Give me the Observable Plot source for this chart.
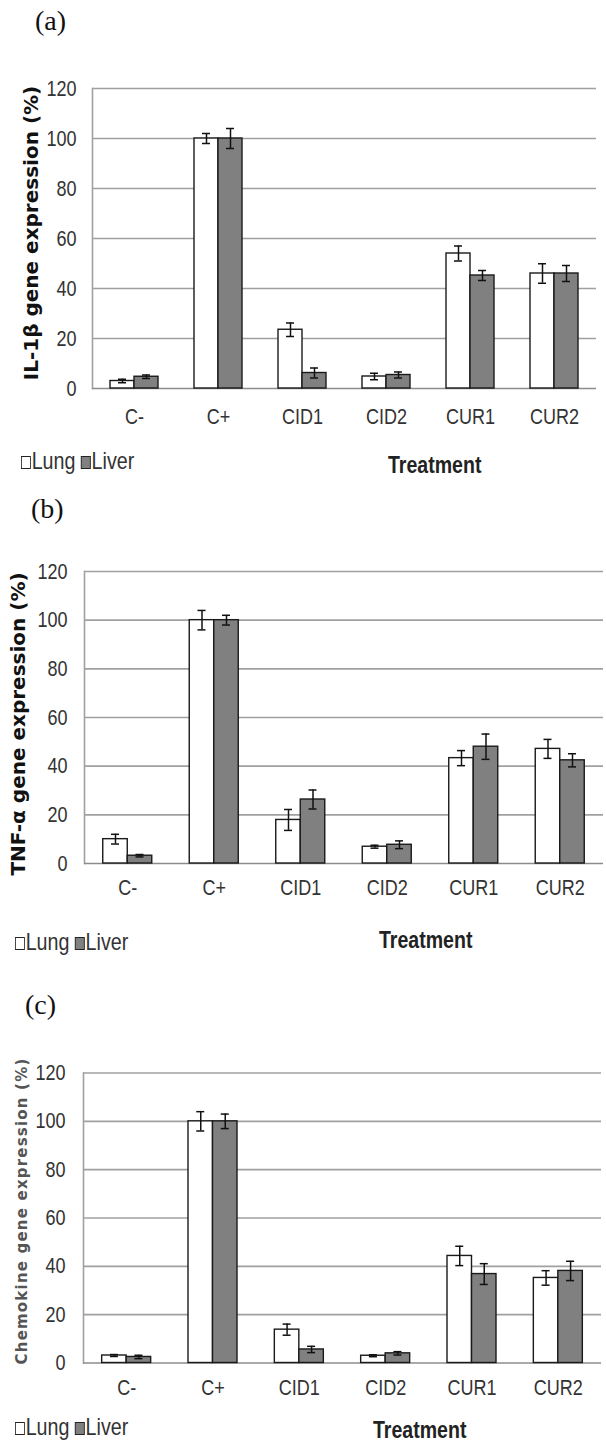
<!DOCTYPE html>
<html>
<head>
<meta charset="utf-8">
<script src="https://cdn.jsdelivr.net/npm/d3@7"></script>
<script src="https://cdn.jsdelivr.net/npm/@observablehq/plot@0.6"></script>
<style>
  body { margin: 0; background: #fff; }
  #page { position: relative; width: 606px; height: 1445px; background: #fff; overflow: hidden; }
  .abs { position: absolute; white-space: nowrap; line-height: 1; }
  .narrow { font-family: "Liberation Sans", Arial, sans-serif; transform-origin: 0 50%; }
  .tag { font-family: "Liberation Serif", "DejaVu Serif", serif; font-size: 28px; color: #111; transform: translateY(-50%); }
  .legend { font-size: 24px; color: #333; transform: translateY(-50%) scaleX(0.82); }
  .sw { display: inline-block; width: 10px; height: 11px; border: 1.6px solid #222; margin-right: 1px; vertical-align: 0px; }
  .treat { font-weight: bold; font-size: 23px; color: #222; transform: translateY(-50%) scaleX(0.85); }
  .ytitle { font-family: "DejaVu Sans", sans-serif; font-weight: bold; color: #111; transform: translate(-50%, -50%) rotate(-90deg); }
</style>
</head>
<body>
<div id="page"></div>
<script>
// ---------- data ----------
const categories = ["C-", "C+", "CID1", "CID2", "CUR1", "CUR2"];
const yTicks = [0, 20, 40, 60, 80, 100, 120];
const seriesNames = ["Lung", "Liver"];

const il1bLung     = [3.0, 100, 23.5, 4.8, 54.0, 46.0];
const il1bLungErr  = [0.7, 2.0, 2.7, 1.3, 3.0, 3.9];
const il1bLiver    = [4.7, 100, 6.2, 5.4, 45.2, 46.0];
const il1bLiverErr = [0.7, 4.0, 2.0, 1.2, 2.0, 3.2];

const tnfLung      = [10.0, 100, 17.9, 6.9, 43.3, 47.1];
const tnfLungErr   = [2.0, 4.0, 4.3, 0.6, 3.1, 3.9];
const tnfLiver     = [3.2, 100, 26.3, 7.7, 48.0, 42.4];
const tnfLiverErr  = [0.5, 2.0, 3.9, 1.6, 5.2, 2.7];

const chemLung     = [3.1, 100, 13.8, 3.0, 44.3, 35.2];
const chemLungErr  = [0.4, 4.0, 2.3, 0.4, 4.0, 3.0];
const chemLiver    = [2.5, 100, 5.6, 4.0, 36.8, 38.1];
const chemLiverErr = [0.7, 3.0, 1.3, 0.7, 4.3, 4.0];

const panelTags = ["(a)", "(b)", "(c)"];
const yTitles = ["IL-1β gene expression (%)", "TNF-α gene expression (%)", "Chemokine gene expression (%)"];
const xTitle = "Treatment";

// ---------- layout / style (not data) ----------
const layouts = [
  { top: 60,  mt: 28,   fh: 300, mb: 52, ml: 92, mr: 10, barW: 24,   xPad: 20, yPad: 16,
    tagX: 35, tagY: 21, titleX: 31, titleY: 233, titleSize: 20, legY: 461, legX: 21, trX: 388, trY: 465 },
  { top: 540, mt: 31,   fh: 292, mb: 45, ml: 84, mr: 3,  barW: 24.5, xPad: 16, yPad: 17,
    tagX: 31, tagY: 509, titleX: 18, titleY: 724, titleSize: 20, legY: 942, legX: 15, trX: 379, trY: 940 },
  { top: 1040, mt: 32.5, fh: 290, mb: 45, ml: 83, mr: 5, barW: 24.5, xPad: 16.5, yPad: 18,
    tagX: 25, tagY: 1005, titleX: 22, titleY: 1211, titleSize: 15, legY: 1427, legX: 15, trX: 373, trY: 1430 }
];
const seriesData = [
  [il1bLung, il1bLungErr, il1bLiver, il1bLiverErr],
  [tnfLung, tnfLungErr, tnfLiver, tnfLiverErr],
  [chemLung, chemLungErr, chemLiver, chemLiverErr]
];
const fills = { Lung: "#ffffff", Liver: "#808080" };
const W = 606;
const page = document.getElementById("page");

function addDiv(cls, html, left, top, extra) {
  const d = document.createElement("div");
  d.className = "abs " + cls;
  d.innerHTML = html;
  d.style.left = left + "px";
  d.style.top = top + "px";
  if (extra) Object.assign(d.style, extra);
  page.appendChild(d);
  return d;
}

layouts.forEach((L, p) => {
  const [lv, le, iv, ie] = seriesData[p];
  const rows = (vals, errs, s) => categories.map((c, i) => ({ treatment: c, series: s, value: vals[i], err: errs[i] }));
  const lung = rows(lv, le, "Lung");
  const liver = rows(iv, ie, "Liver");
  const bw = (W - L.ml - L.mr) / categories.length;
  const half = bw / 2;
  const cap = 4;

  const barMarks = (data, side) => {
    const s = side < 0;
    const off = side * L.barW / 2;
    return [
      Plot.barY(data, {
        x: "treatment", y: "value", fill: fills[data[0].series], stroke: "#1a1a1a", strokeWidth: 1.4,
        insetLeft: s ? half - L.barW : half, insetRight: s ? half : half - L.barW
      }),
      Plot.ruleX(data, { x: "treatment", y1: d => d.value - d.err, y2: d => d.value + d.err, dx: off, stroke: "#111", strokeWidth: 1.5 }),
      Plot.tickY(data, { x: "treatment", y: d => d.value + d.err, dx: off, insetLeft: half - cap, insetRight: half - cap, stroke: "#111", strokeWidth: 1.5 }),
      Plot.tickY(data, { x: "treatment", y: d => d.value - d.err, dx: off, insetLeft: half - cap, insetRight: half - cap, stroke: "#111", strokeWidth: 1.5 })
    ];
  };

  const chart = Plot.plot({
    width: W,
    height: L.mt + L.fh + L.mb,
    marginTop: L.mt, marginBottom: L.mb, marginLeft: L.ml, marginRight: L.mr,
    style: { fontFamily: '"Liberation Sans", Arial, sans-serif', fontSize: "22px", color: "#333", background: "transparent" },
    x: { domain: categories, padding: 0, round: false, tickSize: 0, tickPadding: L.xPad, label: null },
    y: { domain: [0, 120], ticks: yTicks, tickSize: 0, tickPadding: L.yPad, label: null },
    marks: [
      Plot.ruleY(yTicks.filter(t => t > 0), { stroke: "#a0a0a0", strokeWidth: 1.6 }),
      Plot.frame({ anchor: "left", stroke: "#a0a0a0", strokeWidth: 1.6 }),
      Plot.ruleY([0], { stroke: "#8c8c8c", strokeWidth: 1.6 }),
      ...barMarks(lung, -1),
      ...barMarks(liver, 1)
    ]
  });
  // narrow (Arial-Narrow-like) tick labels: squeeze each label horizontally about its anchor
  d3.select(chart).selectAll("text").each(function () {
    const tr = this.getAttribute("transform") || "";
    this.setAttribute("transform", (tr + " scale(0.82,1)").trim());
  });
  const holder = document.createElement("div");
  holder.className = "abs";
  holder.style.left = "0px";
  holder.style.top = L.top + "px";
  holder.appendChild(chart);
  page.appendChild(holder);

  addDiv("tag", panelTags[p], L.tagX, L.tagY);
  const t = addDiv("ytitle", yTitles[p], L.titleX, L.titleY, { fontSize: L.titleSize + "px" });
  if (p === 2) { t.style.color = "#555"; t.style.letterSpacing = "1.2px"; }
  addDiv("legend narrow",
    `<span class="sw" style="background:${fills.Lung}"></span>${seriesNames[0]} <span class="sw" style="background:${fills.Liver}"></span>${seriesNames[1]}`,
    L.legX, L.legY);
  addDiv("treat narrow", xTitle, L.trX, L.trY);
});
</script>
</body>
</html>
